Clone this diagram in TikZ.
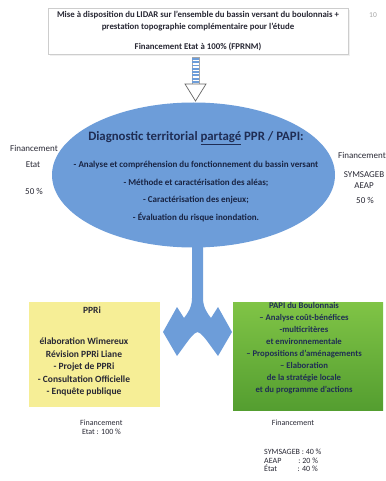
\documentclass[tikz,border=0pt]{standalone}
\usepackage{fontspec}
\setmainfont{Carlito}
\usetikzlibrary{shapes.geometric}
\definecolor{diagblue}{RGB}{109,157,217}
\definecolor{navy}{RGB}{31,45,84}
\definecolor{inkdark}{RGB}{40,40,52}
\definecolor{paleyellow}{RGB}{246,238,150}
\definecolor{greentop}{RGB}{128,196,70}
\definecolor{greenbot}{RGB}{84,158,48}
\definecolor{framegray}{RGB}{205,205,205}
\begin{document}
\begin{tikzpicture}[x=1pt,y=-1pt,
  txt/.style={font=\bfseries\fontsize{8.8}{11.5}\selectfont, text=inkdark, align=center, inner sep=0pt},
  itemtxt/.style={font=\bfseries\fontsize{9}{11}\selectfont, text=navy!80!black, inner sep=0pt},
  sidetxt/.style={font=\fontsize{9}{11}\selectfont, text=inkdark, align=center, inner sep=0pt},
  fundtxt/.style={font=\fontsize{8}{8.5}\selectfont, text=inkdark, inner sep=0pt},
  topbox/.style={draw=framegray, fill=white, line width=0.6pt},
  boxtxt/.style={font=\bfseries\fontsize{8.7}{12}\selectfont, align=center, inner sep=0pt}
]
\useasboundingbox (0,0) rectangle (385,481);

% page number
\node[font=\fontsize{7.5}{9}\selectfont, text=gray!70] (pagenum) at (373,15) {10};

% top box with a faint shadow
\fill[gray!12] (50,10) rectangle (350,56);
\node[topbox, minimum width=300pt, minimum height=46pt, inner sep=0pt, anchor=north west] (lidar) at (48,8) {};
\node[txt] (lidartxt) at (198,21) {Mise à disposition du LIDAR sur l'ensemble du bassin versant du boulonnais +\\prestation topographie complémentaire pour l'étude};
\node[txt] (lidarfund) at (198,47) {Financement Etat à 100\% (FPRNM)};

% diagnostic ellipse
\node[ellipse, fill=diagblue, minimum width=283pt, minimum height=145pt, inner sep=0pt] (diag) at (193.5,175) {};

% striped arrow from the top box to the ellipse
\coordinate (sb) at (195.5,101);
\draw[gray!70, line width=0.5pt] (192,57) rectangle (199,84);
\foreach \k in {0,...,7} {
  \fill[diagblue] (192.3,58+3.3*\k) rectangle (198.7,59.8+3.3*\k);
}
\draw[fill=white, draw=gray!80!black, line width=0.7pt] (185,84) -- (206,84) -- (sb) -- cycle;

\node[font=\bfseries\fontsize{12.8}{14}\selectfont, text=navy, inner sep=0pt] (diagtitle) at (196,138)
  {Diagnostic territorial \underline{partagé} PPR / PAPI:};
\node[itemtxt] (d1) at (196,165) {- Analyse et compréhension du fonctionnement du bassin versant};
\node[itemtxt] (d2) at (196,183) {- Méthode et caractérisation des aléas;};
\node[itemtxt] (d3) at (196,200) {- Caractérisation des enjeux;};
\node[itemtxt] (d4) at (196,217) {- Évaluation du risque inondation.};

% side funding notes
\node[sidetxt] (finl) at (34,148) {Financement};
\node[sidetxt] (etatl) at (33,165) {Etat};
\node[sidetxt] (pctl) at (34,191) {50 \%};
\node[sidetxt] (finr) at (362,155) {Financement};
\node[sidetxt] (symr) at (364,175) {SYMSAGEB};
\node[sidetxt] (aeapr) at (364,186) {AEAP};
\node[sidetxt] (pctr) at (365,200) {50 \%};

% split arrow towards the two programmes
\fill[diagblue] (192,240) -- (192,298)
  .. controls (192,307) and (188,313) .. (184,318)
  -- (177,307) -- (163,332) -- (177,356) -- (185,345)
  .. controls (190,338) and (194,333) .. (197.5,332)
  .. controls (201,333) and (205,338) .. (210,345)
  -- (218,356) -- (232,332) -- (218,307) -- (211,318)
  .. controls (207,313) and (203,307) .. (203,298)
  -- (203,240) -- cycle;

% PPRi box
\node[fill=paleyellow, minimum width=131pt, minimum height=105pt, inner sep=0pt, anchor=north west] (ppri) at (29,302) {};
\node[boxtxt, font=\bfseries\fontsize{9.5}{12.5}\selectfont, text=inkdark] (ppritit) at (92,310) {PPRi};
\node[boxtxt, font=\bfseries\fontsize{9.5}{12.5}\selectfont, text=inkdark, anchor=north] (pprilist) at (84,338) {élaboration Wimereux\\Révision PPRi Liane\\- Projet de PPRi\\- Consultation Officielle\\- Enquête publique};

% PAPI box
\shade[top color=greentop, bottom color=greenbot] (233,302) rectangle (383,410);
\node[minimum width=150pt, minimum height=108pt, inner sep=0pt, anchor=north west] (papi) at (233,302) {};
\node[boxtxt, text=navy, anchor=north] (papitxt) at (304,302) {PAPI du Boulonnais\\– Analyse coût-bénéfices\\-multicritères\\et environnementale\\– Propositions d'aménagements\\– Elaboration\\de la stratégie locale\\et du programme d'actions};

% funding below the boxes
\node[fundtxt, align=left, anchor=north west] (fundppri) at (80,420) {Financement\\\ Etat : 100 \%};
\node[fundtxt, anchor=north] (fundpapi) at (293,420) {Financement};
\node[fundtxt, align=left, anchor=north west] (fundpapi2) at (264,449) {SYMSAGEB : 40 \%\\AEAP\hspace{17pt}: 20 \%\\État\hspace{20.5pt}: 40 \%};
\end{tikzpicture}
\end{document}
